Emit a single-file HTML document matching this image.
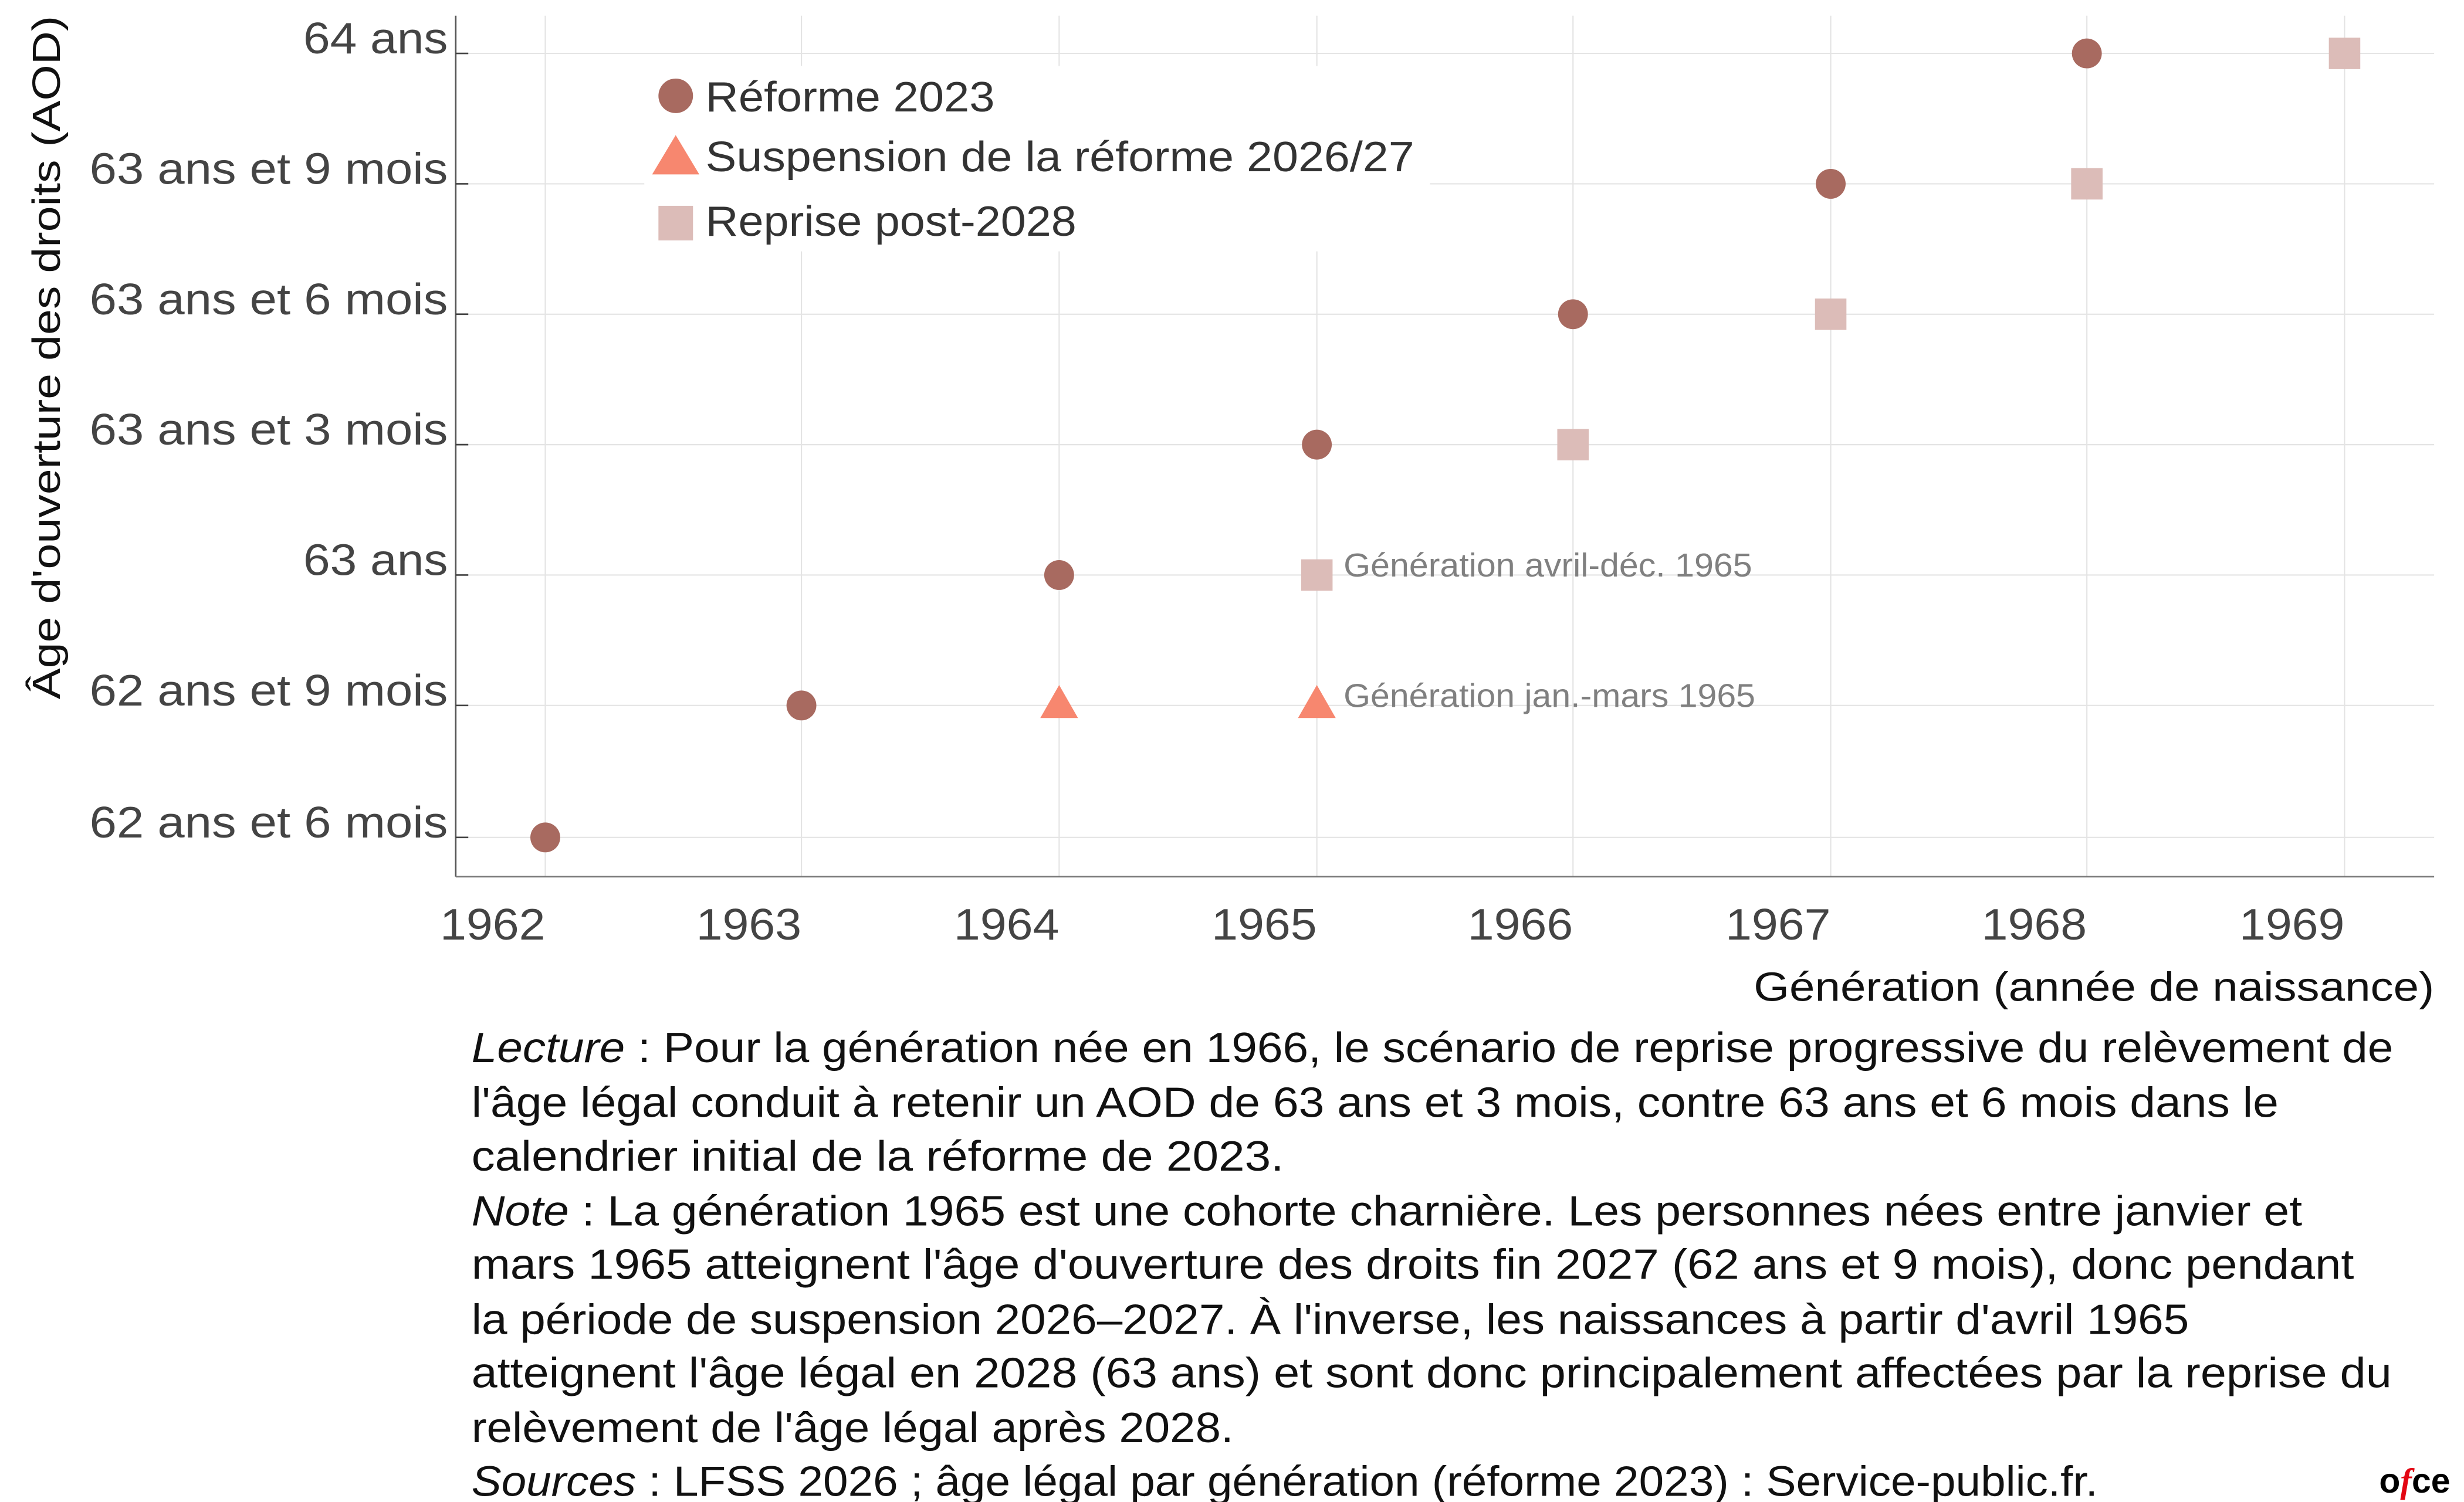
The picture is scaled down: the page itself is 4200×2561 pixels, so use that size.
<!DOCTYPE html>
<html><head><meta charset="utf-8"><style>html,body{margin:0;padding:0;background:#fff}svg{display:block}</style></head><body>
<svg xmlns="http://www.w3.org/2000/svg" width="4200" height="2561" viewBox="0 0 1568 956" preserveAspectRatio="none" font-family="Liberation Sans, DejaVu Sans, sans-serif">
<rect width="1568" height="956" fill="#fff"/>
<g stroke="#e4e4e4" stroke-width="0.8">
<line x1="347" y1="10" x2="347" y2="558"/><line x1="510" y1="10" x2="510" y2="558"/><line x1="674" y1="10" x2="674" y2="558"/><line x1="838" y1="10" x2="838" y2="558"/><line x1="1001" y1="10" x2="1001" y2="558"/><line x1="1165" y1="10" x2="1165" y2="558"/><line x1="1328" y1="10" x2="1328" y2="558"/><line x1="1492" y1="10" x2="1492" y2="558"/>
<line x1="290" y1="34" x2="1549" y2="34"/><line x1="290" y1="117" x2="1549" y2="117"/><line x1="290" y1="200" x2="1549" y2="200"/><line x1="290" y1="283" x2="1549" y2="283"/><line x1="290" y1="366" x2="1549" y2="366"/><line x1="290" y1="449" x2="1549" y2="449"/><line x1="290" y1="533" x2="1549" y2="533"/>
</g>
<line x1="290" y1="10" x2="290" y2="558" stroke="#555" stroke-width="1"/>
<line x1="290" y1="558" x2="1549" y2="558" stroke="#777" stroke-width="1"/>
<g stroke="#444" stroke-width="1"><line x1="290" y1="34" x2="298" y2="34"/><line x1="290" y1="117" x2="298" y2="117"/><line x1="290" y1="200" x2="298" y2="200"/><line x1="290" y1="283" x2="298" y2="283"/><line x1="290" y1="366" x2="298" y2="366"/><line x1="290" y1="449" x2="298" y2="449"/><line x1="290" y1="533" x2="298" y2="533"/></g>
<g font-size="28" fill="#444">
<text x="193" y="34" textLength="92" lengthAdjust="spacingAndGlyphs">64 ans</text>
<text x="57" y="117" textLength="228" lengthAdjust="spacingAndGlyphs">63 ans et 9 mois</text>
<text x="57" y="200" textLength="228" lengthAdjust="spacingAndGlyphs">63 ans et 6 mois</text>
<text x="57" y="283" textLength="228" lengthAdjust="spacingAndGlyphs">63 ans et 3 mois</text>
<text x="193" y="366" textLength="92" lengthAdjust="spacingAndGlyphs">63 ans</text>
<text x="57" y="449" textLength="228" lengthAdjust="spacingAndGlyphs">62 ans et 9 mois</text>
<text x="57" y="533" textLength="228" lengthAdjust="spacingAndGlyphs">62 ans et 6 mois</text>
</g>
<g font-size="28" fill="#444" lengthAdjust="spacingAndGlyphs">
<text x="280" y="598" textLength="67" lengthAdjust="spacingAndGlyphs">1962</text><text x="443" y="598" textLength="67" lengthAdjust="spacingAndGlyphs">1963</text><text x="607" y="598" textLength="67" lengthAdjust="spacingAndGlyphs">1964</text><text x="771" y="598" textLength="67" lengthAdjust="spacingAndGlyphs">1965</text><text x="934" y="598" textLength="67" lengthAdjust="spacingAndGlyphs">1966</text><text x="1098" y="598" textLength="67" lengthAdjust="spacingAndGlyphs">1967</text><text x="1261" y="598" textLength="67" lengthAdjust="spacingAndGlyphs">1968</text><text x="1425" y="598" textLength="67" lengthAdjust="spacingAndGlyphs">1969</text>
</g>
<text x="1116" y="637" font-size="26" fill="#111" textLength="433" lengthAdjust="spacingAndGlyphs">Génération (année de naissance)</text>
<text transform="translate(38,445) rotate(-90)" font-size="25" fill="#111" textLength="435" lengthAdjust="spacingAndGlyphs">Âge d'ouverture des droits (AOD)</text>
<rect x="410" y="42" width="500" height="118" fill="#fff"/>
<circle cx="430" cy="61" r="11" fill="#a86a60"/>
<polygon points="430,86 445,111 415,111" fill="#f7876f"/>
<rect x="419" y="131" width="22" height="22" fill="#dcbcb8"/>
<g font-size="27" fill="#333">
<text x="449" y="71" textLength="184" lengthAdjust="spacingAndGlyphs">Réforme 2023</text>
<text x="449" y="109" textLength="451" lengthAdjust="spacingAndGlyphs">Suspension de la réforme 2026/27</text>
<text x="449" y="150" textLength="236" lengthAdjust="spacingAndGlyphs">Reprise post-2028</text>
</g>
<g fill="#a86a60">
<circle cx="347" cy="533" r="9.5"/><circle cx="510" cy="449" r="9.5"/><circle cx="674" cy="366" r="9.5"/><circle cx="838" cy="283" r="9.5"/><circle cx="1001" cy="200" r="9.5"/><circle cx="1165" cy="117" r="9.5"/><circle cx="1328" cy="34" r="9.5"/>
</g>
<g fill="#f7876f"><polygon points="674,436 686,457 662,457"/><polygon points="838,436 850,457 826,457"/></g>
<g fill="#dcbcb8"><rect x="828" y="356" width="20" height="20"/><rect x="991" y="273" width="20" height="20"/><rect x="1155" y="190" width="20" height="20"/><rect x="1318" y="107" width="20" height="20"/><rect x="1482" y="24" width="20" height="20"/></g>
<g font-size="21" fill="#808080">
<text x="855" y="367" textLength="260" lengthAdjust="spacingAndGlyphs">Génération avril-déc. 1965</text>
<text x="855" y="450" textLength="262" lengthAdjust="spacingAndGlyphs">Génération jan.-mars 1965</text>
</g>
<g font-size="27" fill="#111">
<text x="300" y="676" textLength="1223" lengthAdjust="spacingAndGlyphs"><tspan font-style="italic">Lecture</tspan> : Pour la génération née en 1966, le scénario de reprise progressive du relèvement de</text>
<text x="300" y="711" textLength="1150" lengthAdjust="spacingAndGlyphs">l'âge légal conduit à retenir un AOD de 63 ans et 3 mois, contre 63 ans et 6 mois dans le</text>
<text x="300" y="745" textLength="517" lengthAdjust="spacingAndGlyphs">calendrier initial de la réforme de 2023.</text>
<text x="300" y="780" textLength="1165" lengthAdjust="spacingAndGlyphs"><tspan font-style="italic">Note</tspan> : La génération 1965 est une cohorte charnière. Les personnes nées entre janvier et</text>
<text x="300" y="814" textLength="1198" lengthAdjust="spacingAndGlyphs">mars 1965 atteignent l'âge d'ouverture des droits fin 2027 (62 ans et 9 mois), donc pendant</text>
<text x="300" y="849" textLength="1093" lengthAdjust="spacingAndGlyphs">la période de suspension 2026–2027. À l'inverse, les naissances à partir d'avril 1965</text>
<text x="300" y="883" textLength="1222" lengthAdjust="spacingAndGlyphs">atteignent l'âge légal en 2028 (63 ans) et sont donc principalement affectées par la reprise du</text>
<text x="300" y="918" textLength="485" lengthAdjust="spacingAndGlyphs">relèvement de l'âge légal après 2028.</text>
<text x="300" y="952" textLength="1035" lengthAdjust="spacingAndGlyphs"><tspan font-style="italic">Sources</tspan> : LFSS 2026 ; âge légal par génération (réforme 2023) : Service-public.fr.</text>
</g>
<text x="1514" y="950" font-size="22" font-weight="bold" fill="#000">o<tspan fill="#e30613" font-style="italic" font-family="Liberation Serif, serif">f</tspan>ce</text>
</svg>
</body></html>
